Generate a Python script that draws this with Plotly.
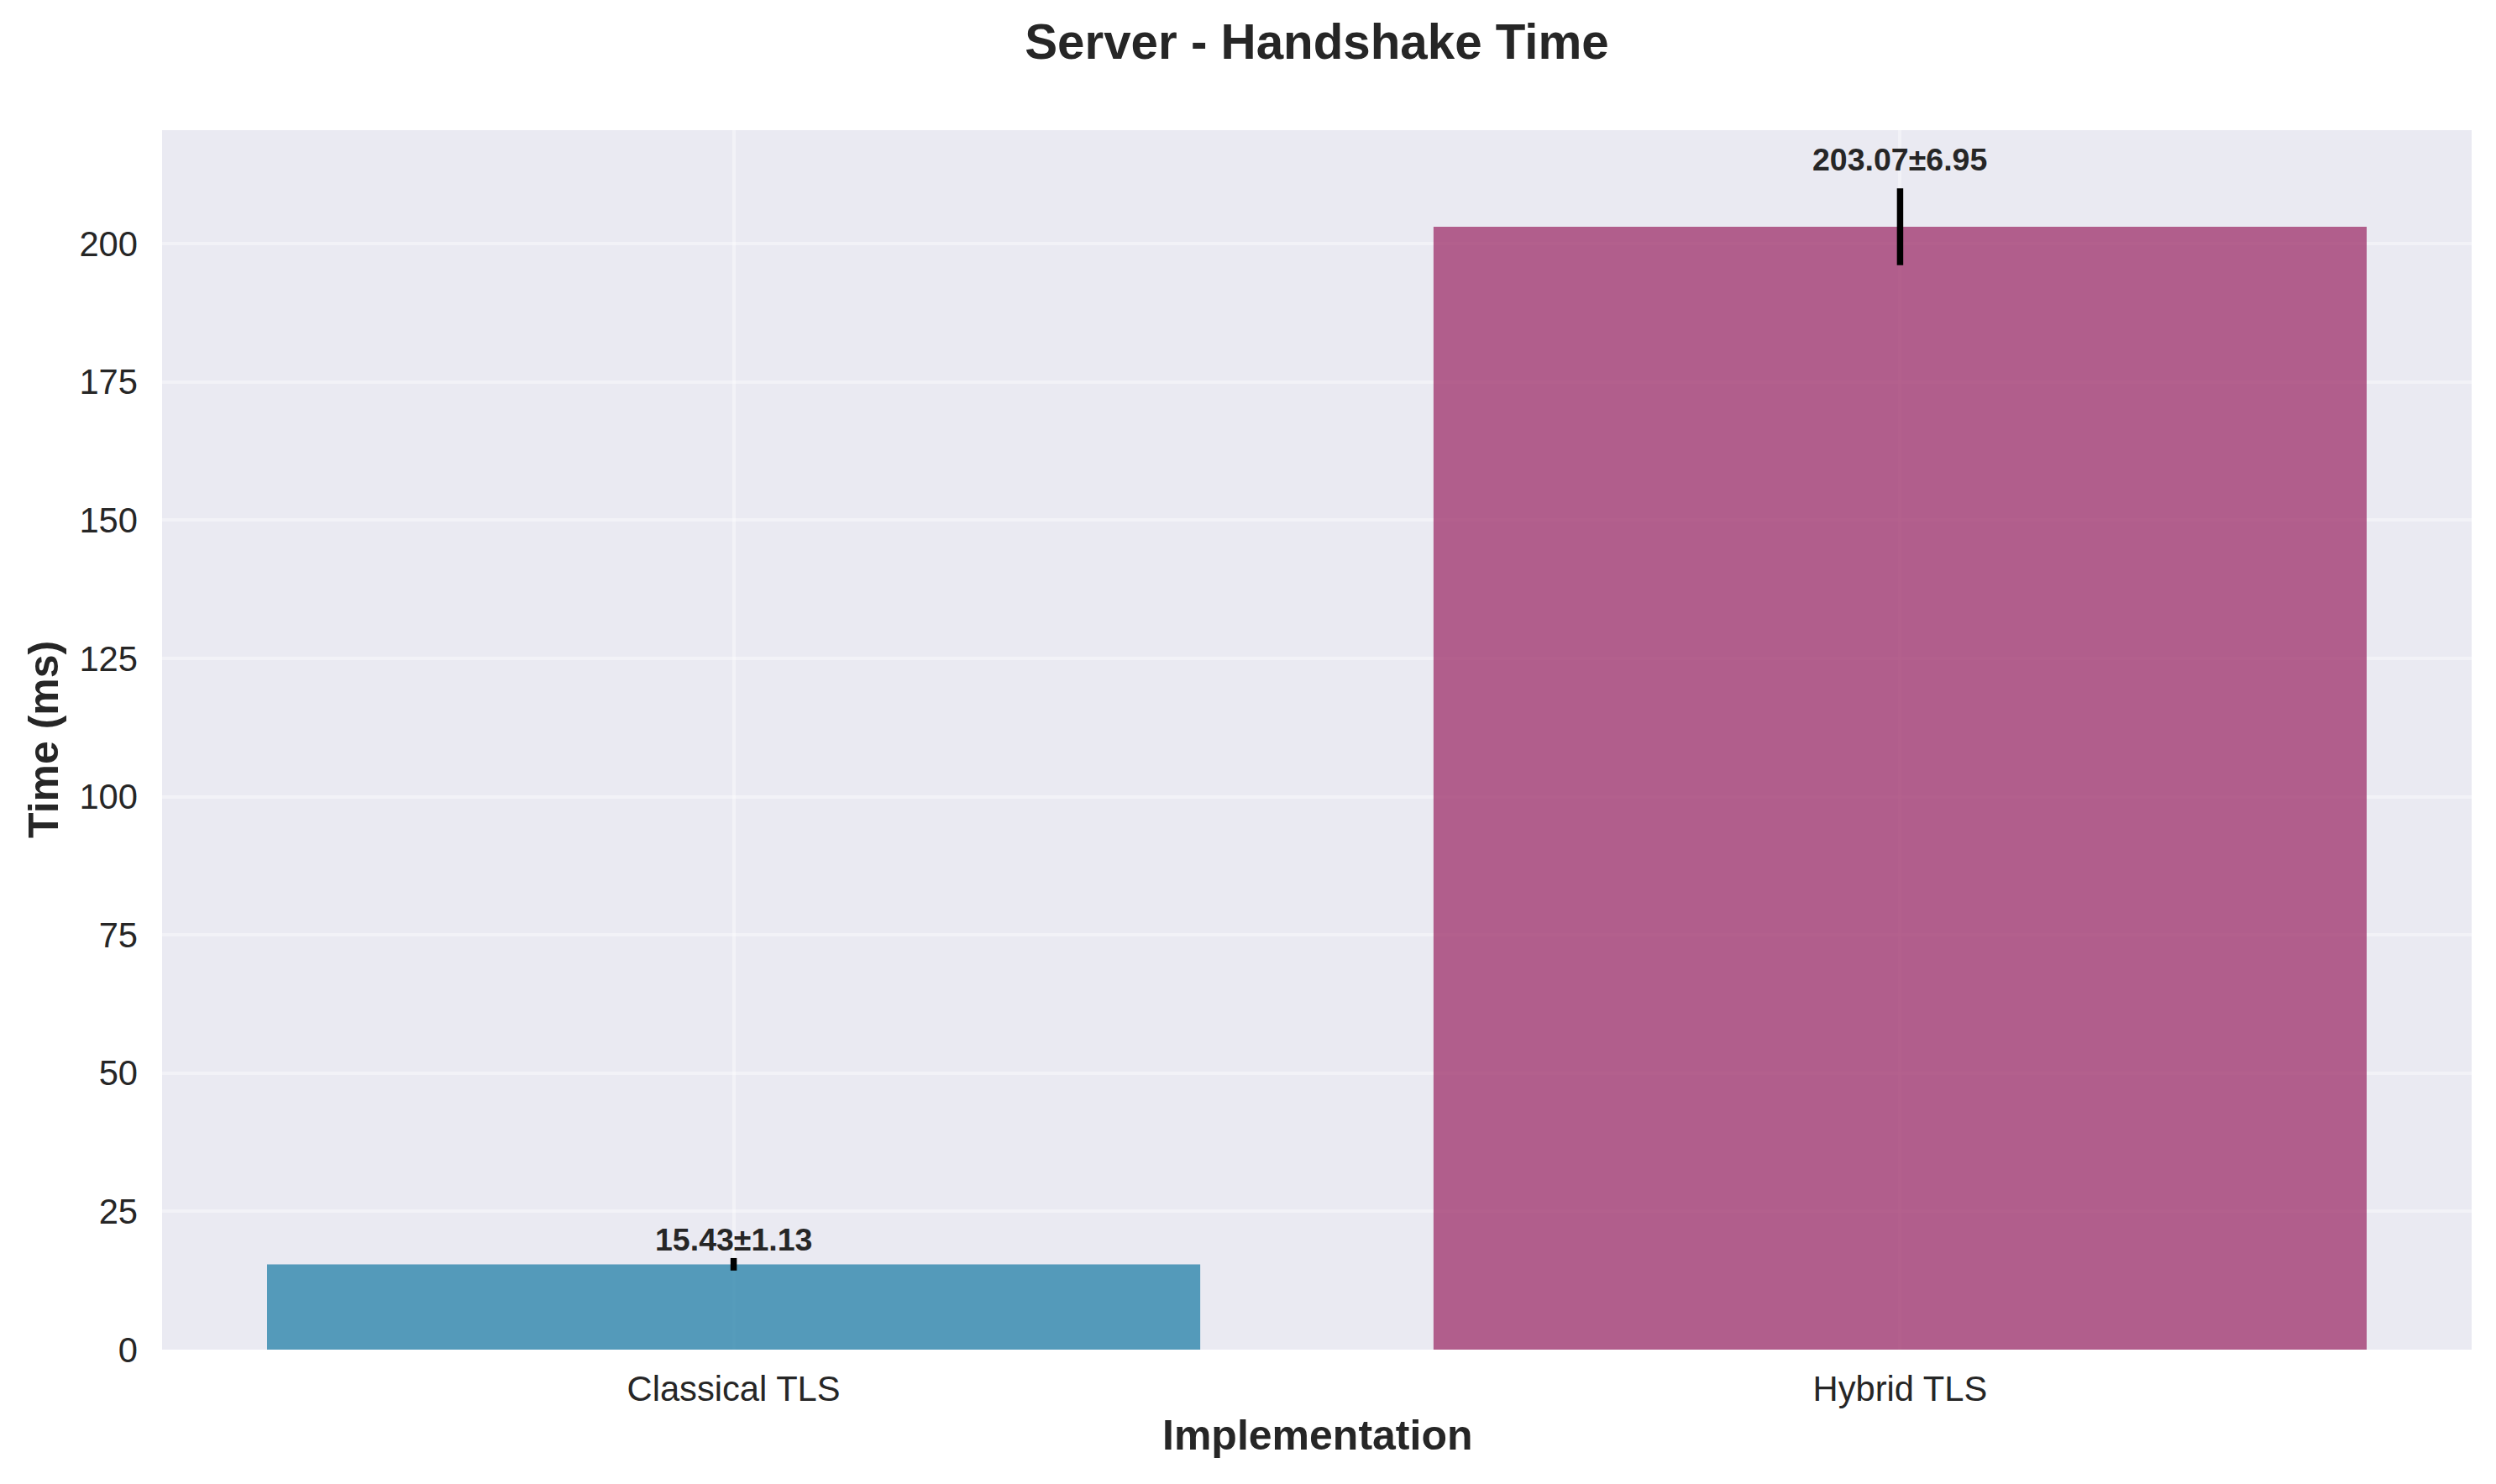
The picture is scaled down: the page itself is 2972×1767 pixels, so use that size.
import plotly.graph_objects as go

categories = ["Classical TLS", "Hybrid TLS"]
means = [15.43, 203.07]
stds = [1.13, 6.95]
colors = ["rgba(46,134,171,0.8)", "rgba(162,59,114,0.8)"]
y_ticks = [0, 25, 50, 75, 100, 125, 150, 175, 200]
label_shift = [8, 20]

W, H = 2972, 1767
ML, MR, MT, MB = 193, 29, 155, 160
TXT = "#262626"
FONT = "Liberation Sans, Arial, Helvetica, sans-serif"

fig = go.Figure()
fig.add_trace(go.Bar(
    x=[0, 1], y=means, width=0.8,
    marker=dict(color=colors, line=dict(width=0)),
    error_y=dict(type="data", array=stds, visible=True, color="black",
                 thickness=7.5, width=0),
    showlegend=False,
))

annotations = []
for i, (m, s) in enumerate(zip(means, stds)):
    annotations.append(dict(
        x=i, y=m + s, xref="x", yref="y", text=f"<b>{m:.2f}±{s:.2f}</b>",
        showarrow=False, yanchor="bottom", xanchor="center",
        yshift=label_shift[i] - 9,
        font=dict(family=FONT, size=37.5, color=TXT),
    ))

ph = H - MT - MB
annotations.append(dict(
    x=0.5, y=-(1709 - (H - MB)) / ph, xref="paper", yref="paper",
    text="<b>Implementation</b>", showarrow=False, xanchor="center", yanchor="middle",
    font=dict(family=FONT, size=50, color=TXT),
))
annotations.append(dict(
    x=-(ML - 52) / (W - ML - MR), y=0.5, xref="paper", yref="paper",
    text="<b>Time (ms)</b>", showarrow=False, xanchor="center", yanchor="middle",
    textangle=-90, font=dict(family=FONT, size=50, color=TXT),
))

fig.update_layout(
    width=W, height=H,
    margin=dict(l=ML, r=MR, t=MT, b=MB),
    paper_bgcolor="white", plot_bgcolor="#EAEAF2",
    title=dict(text="<b>Server - Handshake Time</b>", x=0.5, xref="paper",
               y=1 - 50 / H, yref="container", yanchor="middle", xanchor="center",
               font=dict(family=FONT, size=58.3, color=TXT)),
    annotations=annotations,
    bargap=0.2,
)
fig.update_xaxes(
    range=[-0.49, 1.49], tickmode="array", tickvals=[0, 1], ticktext=categories,
    showgrid=True, gridcolor="rgba(255,255,255,0.4)", gridwidth=3.5,
    zeroline=False, showline=False, ticks="", ticklabelstandoff=18,
    tickfont=dict(family=FONT, size=41.7, color=TXT),
)
fig.update_yaxes(
    range=[0, 220.52], tickmode="array", tickvals=y_ticks,
    showgrid=True, gridcolor="rgba(255,255,255,0.4)", gridwidth=3.5,
    zeroline=False, showline=False, ticks="", ticklabelstandoff=28,
    tickfont=dict(family=FONT, size=41.7, color=TXT),
)

fig.write_html("out.html")
